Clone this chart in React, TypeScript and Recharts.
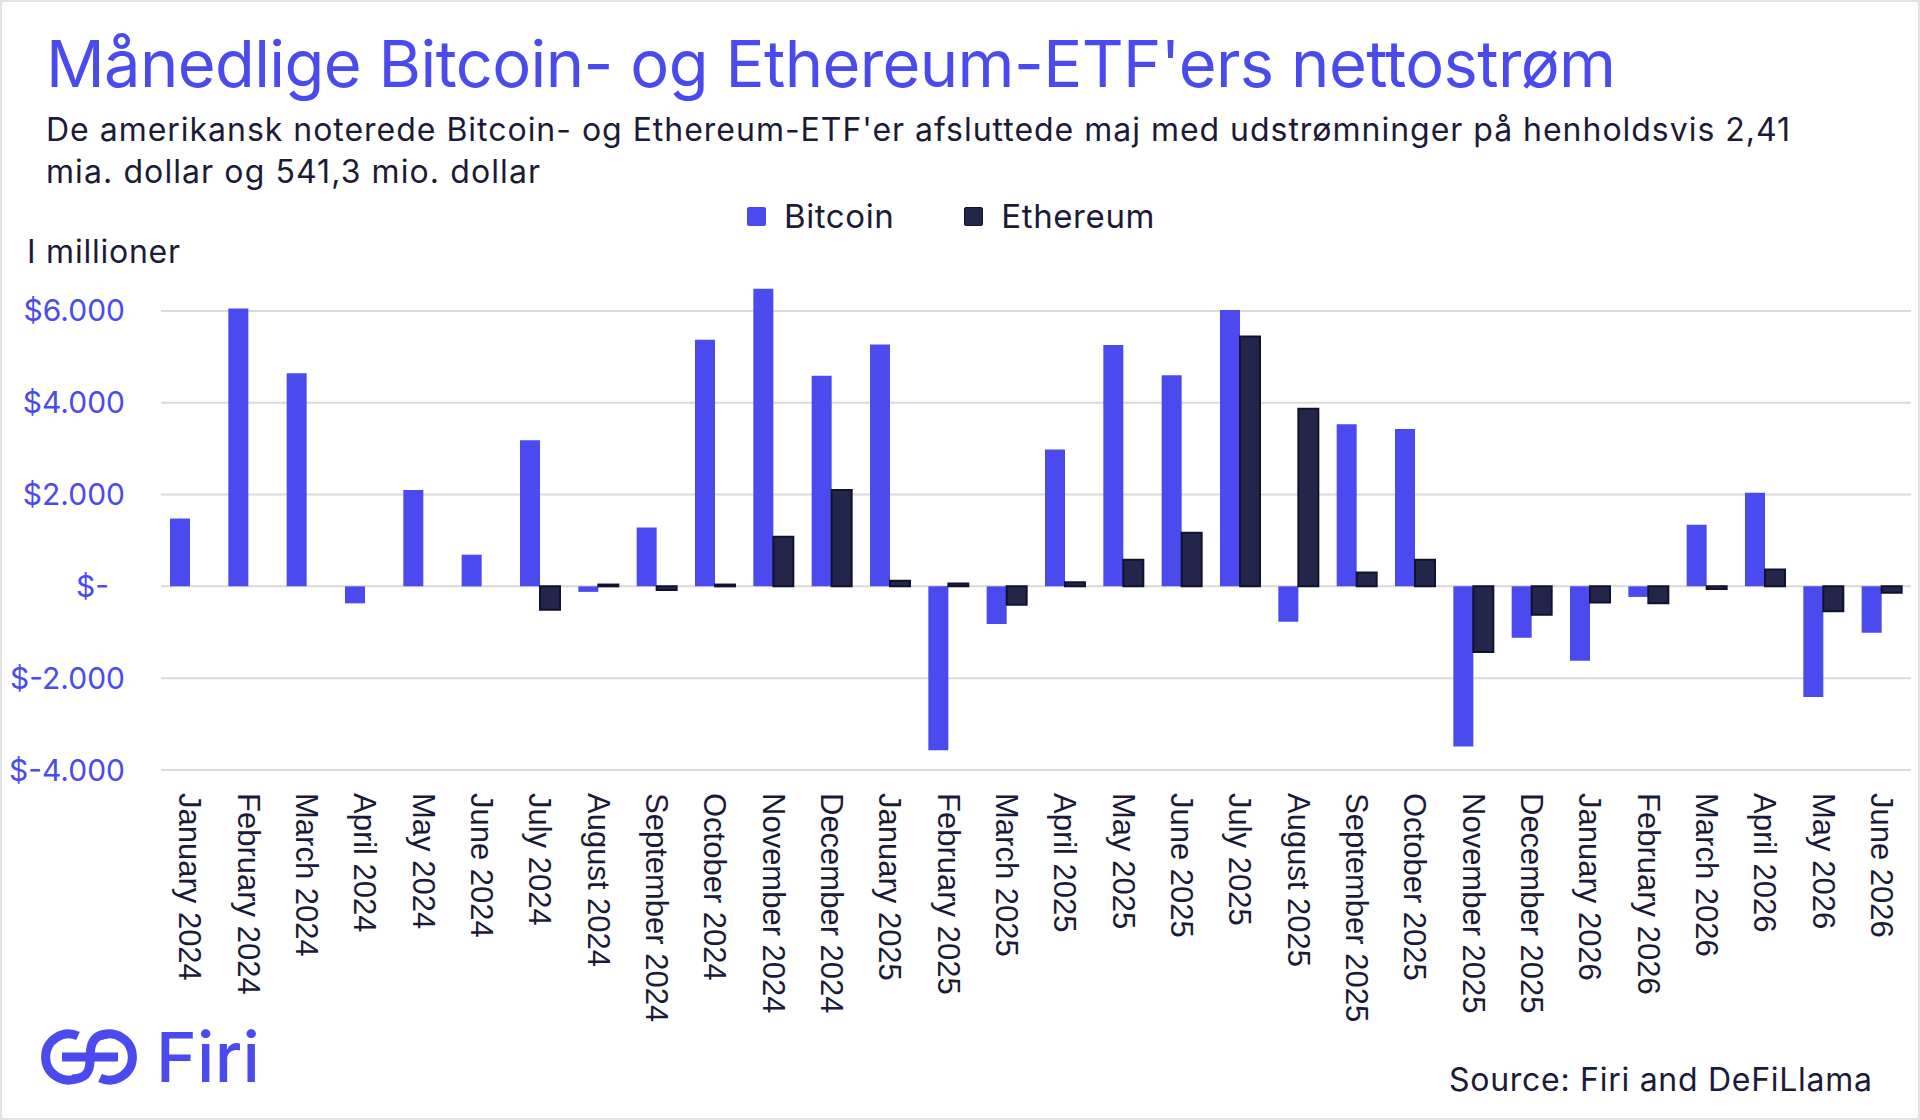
import { BarChart, Bar, XAxis, YAxis, CartesianGrid, Legend } from "recharts"

const months = [
    "January 2024", "February 2024", "March 2024", "April 2024", "May 2024", "June 2024",
    "July 2024", "August 2024", "September 2024", "October 2024", "November 2024", "December 2024",
    "January 2025", "February 2025", "March 2025", "April 2025", "May 2025", "June 2025",
    "July 2025", "August 2025", "September 2025", "October 2025", "November 2025", "December 2025",
    "January 2026", "February 2026", "March 2026", "April 2026", "May 2026", "June 2026",
]

// net flows, USD millions
const bitcoin = [
    1480, 6050, 4640, -370, 2100, 690,
    3180, -120, 1280, 5370, 6480, 4590,
    5270, -3570, -820, 2980, 5260, 4600,
    6020, -770, 3530, 3430, -3490, -1120,
    -1620, -230, 1340, 2040, -2410, -1010,
]

const ethereum = [
    0, 0, 0, 0, 0, 0,
    -510, 40, -80, 40, 1080, 2100,
    120, 60, -400, 90, 580, 1170,
    5440, 3870, 300, 580, -1430, -620,
    -350, -370, -60, 370, -541.3, -140,
]

const yTicks = [-4000, -2000, 0, 2000, 4000, 6000]

const BLUE = "#4a4aef"
const NAVY = "#23264a"
const TEXT = "#1b1b38"

const data = months.map((m, i) => ({ month: m, bitcoin: bitcoin[i], ethereum: ethereum[i] }))

const fmt = (v: number) => {
    if (v === 0) return "$-"
    const s = Math.abs(v).toString().replace(/\B(?=(\d{3})+(?!\d))/g, ".")
    return v < 0 ? `$-${s}` : `$${s}`
}

const YTick = ({ x, y, payload }: any) => (
    <text
        x={payload.value === 0 ? x - 16 : x}
        y={y}
        dy="0.35em"
        textAnchor="end"
        fontFamily="Inter"
        fontSize={30}
        fill={BLUE}
    >
        {fmt(payload.value)}
    </text>
)

const XTick = ({ x, y, payload }: any) => (
    <text
        x={x}
        y={y}
        dy="0.35em"
        transform={`rotate(90, ${x}, ${y})`}
        textAnchor="start"
        fontFamily="'Liberation Sans', Arial"
        fontSize={31}
        fill={TEXT}
    >
        {payload.value}
    </text>
)

const LegendBox = () => (
    <div style={{ display: "flex", justifyContent: "center", alignItems: "center", fontFamily: "Inter", fontSize: 33, letterSpacing: 0.6, color: TEXT, paddingRight: 18 }}>
        <span style={{ width: 19, height: 19, background: BLUE, borderRadius: 2, marginRight: 18 }} />
        <span style={{ marginRight: 70 }}>Bitcoin</span>
        <span style={{ width: 19, height: 19, background: NAVY, border: "1px solid #111130", boxSizing: "border-box", borderRadius: 2, marginRight: 18 }} />
        <span>Ethereum</span>
    </div>
)

export default function App() {
    return (
        <div
            style={{
                position: "absolute",
                left: 0,
                top: 0,
                width: 1920,
                height: 1120,
                background: "#fff",
                border: "2px solid #e2e2e2",
                boxSizing: "border-box",
                overflow: "hidden",
            }}
        >
            <svg width={1920} height={1120} style={{ position: "absolute", left: -2, top: -2 }}>
                <text x={46} y={87} fontFamily="Inter" fontSize={65} fill={BLUE} textLength={1570}>
                    Månedlige Bitcoin- og Ethereum-ETF'ers nettostrøm
                </text>
                <text x={46} y={141} fontFamily="Inter" fontSize={32} fill={TEXT} textLength={1744}>
                    De amerikansk noterede Bitcoin- og Ethereum-ETF'er afsluttede maj med udstrømninger på henholdsvis 2,41
                </text>
                <text x={46} y={183} fontFamily="Inter" fontSize={32} fill={TEXT} textLength={494}>
                    mia. dollar og 541,3 mio. dollar
                </text>
                <text x={27} y={263} fontFamily="Inter" fontSize={32} fill={TEXT} textLength={153}>
                    I millioner
                </text>
                <text x={1872} y={1091} fontFamily="Inter" fontSize={32} fill={TEXT} textLength={423} textAnchor="end">
                    Source: Firi and DeFiLlama
                </text>
                {/* Firi logo */}
                <g fill="none" stroke={BLUE} strokeWidth={9} strokeLinecap="butt">
                    <path d="M 78 1036 A 23 23 0 1 0 78 1078" />
                    <path d="M 62 1057 L 118 1057" />
                    <path d="M 108 1034 C 90 1034 90 1050 90 1060 C 90 1072 86 1079 72 1079" />
                    <path d="M 100 1036 A 23 23 0 1 1 100 1078" />
                </g>
                <text x={156} y={1082} fontFamily="Inter" fontWeight={500} fontSize={69} fill={BLUE} textLength={104}>
                    Firi
                </text>
            </svg>
            <div style={{ position: "absolute", left: -2, top: -2 }}>
                <BarChart
                    width={1920}
                    height={1120}
                    data={data}
                    margin={{ top: 265, right: 9, bottom: 50, left: 31 }}
                    barSize={20}
                    barGap={0}
                >
                    <CartesianGrid vertical={false} horizontalValues={yTicks} stroke="#dadada" strokeWidth={2} />
                    <XAxis
                        dataKey="month"
                        interval={0}
                        height={300}
                        axisLine={false}
                        tickLine={false}
                        tickSize={0}
                        tickMargin={23}
                        tick={<XTick />}
                    />
                    <YAxis
                        domain={[-4000, 7000]}
                        ticks={yTicks}
                        width={130}
                        axisLine={false}
                        tickLine={false}
                        tickSize={0}
                        tickMargin={36}
                        tick={<YTick />}
                    />
                    <Legend
                        layout="horizontal"
                        verticalAlign="middle"
                        align="center"
                        content={<LegendBox />}
                        wrapperStyle={{ top: 196, left: 0, width: 1920 }}
                    />
                    <Bar dataKey="bitcoin" name="Bitcoin" fill={BLUE} isAnimationActive={false} />
                    <Bar dataKey="ethereum" name="Ethereum" fill={NAVY} stroke="#111130" strokeWidth={2} isAnimationActive={false} />
                </BarChart>
            </div>
        </div>
    )
}
